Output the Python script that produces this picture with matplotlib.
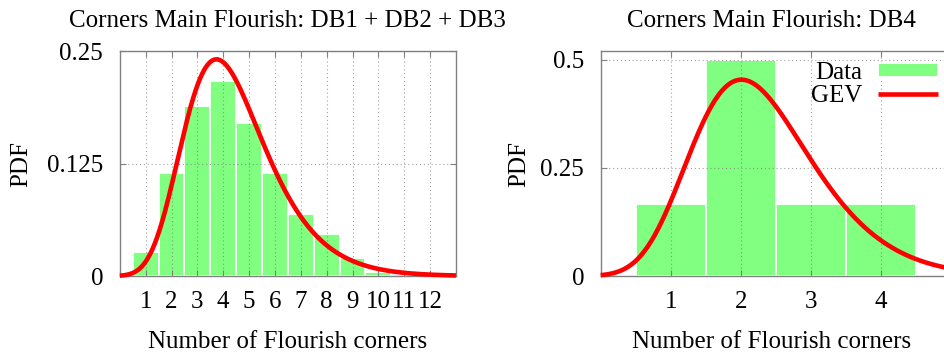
import numpy as np
import matplotlib.pyplot as plt
from matplotlib.ticker import FixedLocator

plt.rcParams['font.family'] = ['Liberation Serif', 'DejaVu Serif']
plt.rcParams['font.size'] = 18
plt.rcParams['axes.titlesize'] = 18

# histogram of corners, DB1 + DB2 + DB3
corners_all = [1, 2, 3, 4, 5, 6, 7, 8, 9, 10, 11, 12]
pdf_all = [0.027, 0.115, 0.189, 0.217, 0.170, 0.115, 0.069, 0.047, 0.020,
           0.005, 0.0025, 0.003]

# histogram of corners, DB4
corners_db4 = [1, 2, 3, 4]
pdf_db4 = [1 / 6, 1 / 2, 1 / 6, 1 / 6]

# fitted GEV parameters (mu, sigma, xi)
gev_all = (3.66, 1.53, -0.05)
gev_db4 = (1.925, 0.815, -0.10)

BAR_COLOR = '#80ff80'
LINE_COLOR = '#ff0000'
FRAME_COLOR = '#808080'


def gev_pdf(x, mu, sigma, xi):
    """
    Density of the generalised extreme value distribution

    Parameters:
    x (array): Points where the density is evaluated
    mu, sigma, xi (float): Location, scale and shape

    Returns:
    pdf (array): Density values
    """

    z = (x - mu) / sigma
    s = 1 + xi * z
    pdf = np.zeros_like(x)
    ok = s > 0
    t = s[ok] ** (-1 / xi)
    pdf[ok] = t ** (xi + 1) * np.exp(-t) / sigma
    return pdf


def draw_panel(ax, corners, pdf, gev, xmax, ymax, yticks, ylabels):

    bars = ax.bar(corners, pdf, width=1.0, color=BAR_COLOR, edgecolor='white',
                  linewidth=1.3, zorder=1, label='Data')

    x = np.linspace(0, xmax, 600)
    line, = ax.plot(x, gev_pdf(x, *gev), color=LINE_COLOR, lw=3.3, zorder=5,
                    clip_on=False, solid_capstyle='butt', label='GEV')

    ax.set_xlim(0, xmax)
    ax.set_ylim(0, ymax)
    ax.xaxis.set_major_locator(FixedLocator(corners))
    ax.set_yticks(yticks)
    ax.set_yticklabels(ylabels)

    ax.set_axisbelow(False)
    ax.grid(True, color='#7a7a7a', linestyle=(0, (1, 2.5)), linewidth=0.8,
            alpha=0.7)
    ax.tick_params(direction='in', top=True, right=True, length=4,
                   width=0.8, color=FRAME_COLOR)
    ax.tick_params(axis='x', pad=11)
    ax.tick_params(axis='y', pad=12)
    for spine in ax.spines.values():
        spine.set_color(FRAME_COLOR)
        spine.set_linewidth(1.0)

    ax.set_xlabel('Number of Flourish corners')
    ax.set_ylabel('PDF')

    return bars, line


def main():

    fig = plt.figure(figsize=(9.44, 3.53), dpi=100)

    ax1 = fig.add_axes([0.1269, 0.2181, 0.3561, 0.6374])
    ax2 = fig.add_axes([0.6363, 0.2181, 0.3708, 0.6374])

    draw_panel(ax1, corners_all, pdf_all, gev_all, 13, 0.25,
               [0, 0.125, 0.25], ['0', '0.125', '0.25'])
    bars, line = draw_panel(ax2, corners_db4, pdf_db4, gev_db4, 5, 0.52,
                            [0, 0.25, 0.5], ['0', '0.25', '0.5'])

    ax1.set_title('Corners Main Flourish: DB1 + DB2 + DB3', pad=17)
    ax2.set_title('Corners Main Flourish: DB4', pad=17, x=0.489)

    ax1.xaxis.set_label_coords(0.5, -0.245)
    ax2.xaxis.set_label_coords(0.489, -0.245)
    ax1.yaxis.set_label_coords(-0.261, 0.5)
    ax2.yaxis.set_label_coords(-0.201, 0.5)

    ax2.legend([bars, line], ['Data', 'GEV'], loc='upper right',
               bbox_to_anchor=(938 / 944, 1 - 62 / 353),
               bbox_transform=fig.transFigure, frameon=False, markerfirst=False,
               borderpad=0, borderaxespad=0, labelspacing=0.05,
               handlelength=2.4, handletextpad=0.64, handleheight=0.5)

    fig.savefig('out.png', dpi=100)


if __name__ == '__main__':
    main()
